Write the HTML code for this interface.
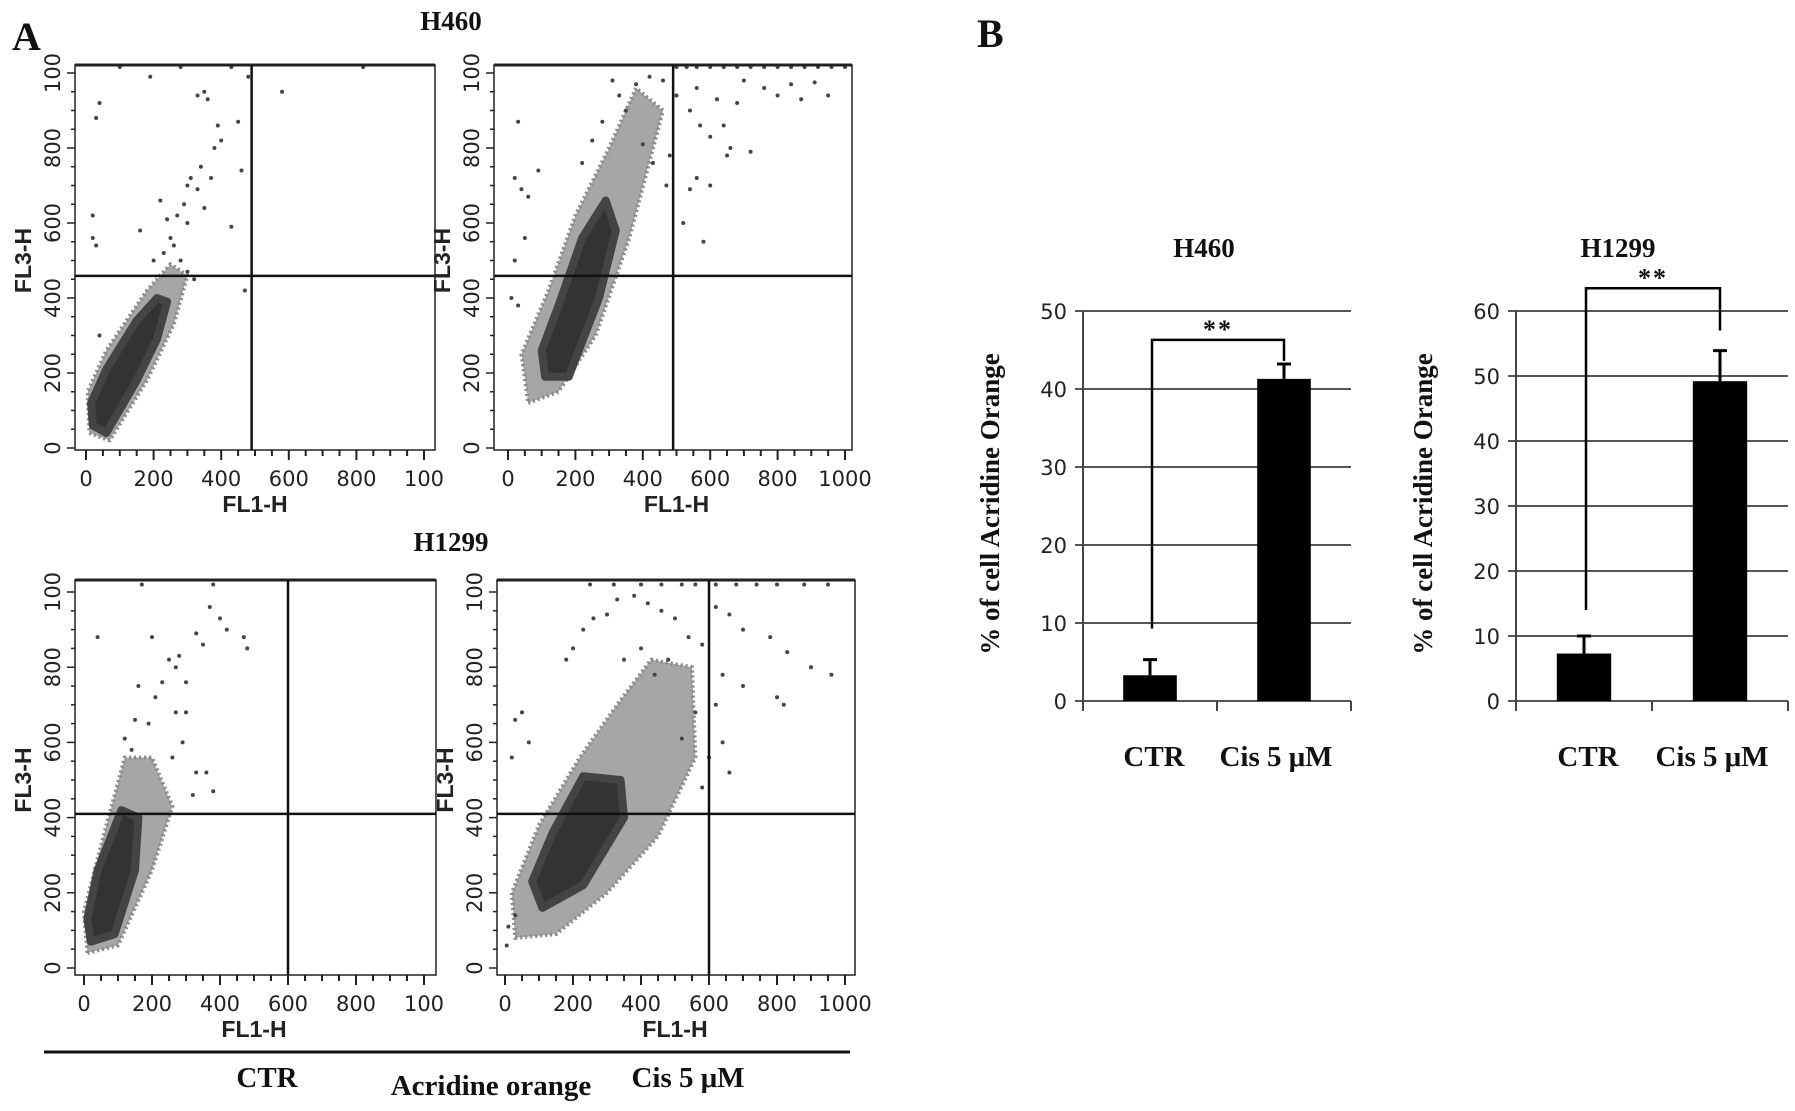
<!DOCTYPE html>
<html><head><meta charset="utf-8"><style>
html,body{margin:0;padding:0;background:#fff;}
svg{display:block;}
.tk{font-family:"DejaVu Sans","Liberation Sans",sans-serif;font-size:21px;fill:#222;}
.fl{font-family:"Liberation Sans",sans-serif;font-size:23px;font-weight:bold;fill:#222;}
.ttl{font-family:"Liberation Serif",serif;font-weight:bold;fill:#111;}
</style></head><body>
<svg id="fig" width="1795" height="1111" viewBox="0 0 1795 1111" xmlns="http://www.w3.org/2000/svg">
<text x="12" y="50" class="ttl" font-size="40">A</text>
<text x="977" y="47" class="ttl" font-size="40">B</text>
<text x="451" y="30" class="ttl" font-size="27" text-anchor="middle">H460</text>
<text x="451" y="551" class="ttl" font-size="27" text-anchor="middle">H1299</text>
<line x1="44" y1="1052" x2="850" y2="1052" stroke="#111" stroke-width="3"/>
<text x="267" y="1087" class="ttl" font-size="29" text-anchor="middle">CTR</text>
<text x="491" y="1095" class="ttl" font-size="29" text-anchor="middle">Acridine orange</text>
<text x="688" y="1087" class="ttl" font-size="29" text-anchor="middle">Cis 5 μM</text>
<text x="1204" y="257" class="ttl" font-size="27" text-anchor="middle">H460</text>
<text x="1618" y="257" class="ttl" font-size="27" text-anchor="middle">H1299</text>
<g id="plots"></g>
</svg>
<script>
// ---------- Scatter data (data units: FL1-H, FL3-H) ----------
const p1CoreX=[20,60,150,210,240,210,150,60,15];
const p1CoreY=[60,40,180,290,390,400,340,210,120];
const p1HaloX=[10,70,180,260,300,250,180,60,5];
const p1HaloY=[40,20,180,330,460,490,420,260,150];
const p1PtsX=[30,40,190,480,580,330,350,360,390,400,380,450,460,340,310,330,290,270,300,250,260,230,280,160,20,30,20,40,430,470,200,320,300,240,220,350,370,300,100,280,430,820];
const p1PtsY=[880,920,990,990,950,940,950,930,860,820,800,870,740,750,720,690,650,620,600,560,540,520,500,580,560,540,620,300,590,420,500,450,470,610,660,640,720,700,1020,1020,1020,1020];

const p2CoreX=[110,180,270,320,290,220,150,100];
const p2CoreY=[190,190,400,580,660,560,380,260];
const p2HaloX=[60,150,260,360,460,380,300,200,120,40];
const p2HaloY=[120,150,300,560,900,960,800,620,420,250];
const p2PtsX=[560,620,700,760,800,840,910,950,870,540,570,600,640,660,720,650,560,600,540,680,500,460,420,380,30,40,20,60,10,30,50,20,90,480,520,580,470,430,400,350,330,310,280,250,220,500,530,560,600,640,680,720,760,800,840,880,920,960,1000];
const p2PtsY=[960,930,980,960,940,970,975,940,930,900,860,830,860,800,790,780,720,700,690,920,940,980,990,970,870,690,720,670,400,380,560,500,740,780,600,550,700,760,810,900,940,980,870,820,760,1020,1020,1020,1020,1020,1020,1020,1020,1020,1020,1020,1020,1020,1020];

const p3CoreX=[20,90,150,160,110,40,10];
const p3CoreY=[70,90,260,400,420,260,130];
const p3HaloX=[10,100,200,260,200,120,60,0];
const p3HaloY=[40,60,260,430,560,560,360,150];
const p3PtsX=[40,200,170,380,370,420,400,480,470,350,330,300,270,280,250,230,210,160,190,150,120,140,260,290,330,320,360,270,300,380];
const p3PtsY=[880,880,1020,1020,960,900,930,850,880,860,890,760,800,830,820,760,720,750,650,660,610,580,560,600,520,460,520,680,680,470];

const p4CoreX=[110,230,350,340,230,140,80];
const p4CoreY=[160,220,400,500,510,360,230];
const p4HaloX=[30,150,300,450,560,550,430,330,220,100,20];
const p4HaloY=[80,90,200,350,560,800,820,700,560,380,200];
const p4PtsX=[620,660,700,780,830,900,960,800,820,640,700,620,580,540,500,460,420,380,330,300,260,230,200,180,30,50,20,70,660,600,580,640,520,560,480,400,350,440,5,10,30,250,320,400,460,520,560,620,680,740,800,880,950];
const p4PtsY=[960,940,900,880,840,800,780,720,700,780,750,700,860,880,930,950,970,990,980,940,930,900,850,820,660,680,560,600,520,560,480,600,610,680,820,850,820,780,60,110,140,1020,1020,1020,1020,1020,1020,1020,1020,1020,1020,1020,1020];

const xTicks=[0,200,400,600,800,1000];
const xTickLabels=["0","200","400","600","800","100"];
const xTickLabels2=["0","200","400","600","800","1000"];
const yTicks=[0,200,400,600,800,1000];
const yTickLabels=["0","200","400","600","800","100"];

// ---------- Bar data ----------
const barCats=["CTR","Cis 5 μM"];
const h460Vals=[3.3,41.3];
const h460Err=[2.0,1.9];
const h1299Vals=[7.3,49.2];
const h1299Err=[2.7,4.7];
const h460YTicks=[0,10,20,30,40,50];
const h1299YTicks=[0,10,20,30,40,50,60];
const h460Bracket=[9.3,46.3,43.6];
const h1299Bracket=[14,63.5,57];

const NS="http://www.w3.org/2000/svg";
const root=document.getElementById('plots');
function mk(tag,attrs,parent){const e=document.createElementNS(NS,tag);for(const k in attrs)e.setAttribute(k,attrs[k]);(parent||root).appendChild(e);return e;}

const scatters=[
 {name:'h460-ctr',fx0:75,fx1:435,fy0:65,fy1:450,x0:86,x1000:424,y0:448,y1000:73,gx:490,gy:459,core:[p1CoreX,p1CoreY],halo:[p1HaloX,p1HaloY],pts:[p1PtsX,p1PtsY],labs:xTickLabels},
 {name:'h460-cis',fx0:494,fx1:852,fy0:65,fy1:450,x0:508,x1000:845,y0:448,y1000:73,gx:490,gy:459,core:[p2CoreX,p2CoreY],halo:[p2HaloX,p2HaloY],pts:[p2PtsX,p2PtsY],labs:xTickLabels2},
 {name:'h1299-ctr',fx0:75,fx1:436,fy0:580,fy1:975,x0:84,x1000:424,y0:968,y1000:592,gx:600,gy:410,core:[p3CoreX,p3CoreY],halo:[p3HaloX,p3HaloY],pts:[p3PtsX,p3PtsY],labs:xTickLabels},
 {name:'h1299-cis',fx0:497,fx1:855,fy0:580,fy1:975,x0:505,x1000:845,y0:968,y1000:592,gx:600,gy:410,core:[p4CoreX,p4CoreY],halo:[p4HaloX,p4HaloY],pts:[p4PtsX,p4PtsY],labs:xTickLabels2}
];
scatters.forEach(s=>{
 const g=mk('g',{});
 
 
 const X=v=>s.x0+(s.x1000-s.x0)*v/1000, Y=v=>s.y0-(s.y0-s.y1000)*v/1000;
 const poly=(arr)=>arr[0].map((v,i)=>X(v)+','+Y(arr[1][i])).join(' ');
 const halo=mk('polygon',{points:poly(s.halo),fill:'#6a6a6a','fill-opacity':0.6,stroke:'#888','stroke-width':4,'stroke-dasharray':'2 3','stroke-linejoin':'round'},g);
 
 
 const core=mk('polygon',{points:poly(s.core),fill:'#333',stroke:'#444','stroke-width':8,'stroke-linejoin':'round'},g);
 
 
 s.pts[0].forEach((v,i)=>{
  const c=mk('circle',{cx:X(v),cy:Math.max(s.fy0+2,Y(s.pts[1][i])),r:2,fill:'#444'},g);
  
  
 });
 const fr=mk('rect',{x:s.fx0,y:s.fy0,width:s.fx1-s.fx0,height:s.fy1-s.fy0,fill:'none',stroke:'#222','stroke-width':1.5},g);
 
 
 mk('line',{x1:s.fx0,y1:s.fy0,x2:s.fx1,y2:s.fy0,stroke:'#222','stroke-width':3},g);
 const vg=mk('line',{x1:X(s.gx),y1:s.fy0,x2:X(s.gx),y2:s.fy1,stroke:'#111','stroke-width':2.5},g);
 
 
 const hg=mk('line',{x1:s.fx0,y1:Y(s.gy),x2:s.fx1,y2:Y(s.gy),stroke:'#111','stroke-width':2.5},g);
 
 
 for(let v=0;v<=1000;v+=50){const big=v%200===0;mk('line',{x1:X(v),y1:s.fy1,x2:X(v),y2:s.fy1+(big?10:6),stroke:'#222','stroke-width':2},g);}
 xTicks.forEach((v,i)=>{const t=mk('text',{x:X(v),y:s.fy1+36,class:'tk','text-anchor':'middle'},g);t.textContent=s.labs[i];
  
  });
 const xl=mk('text',{x:(X(0)+X(1000))/2,y:s.fy1+62,class:'fl','text-anchor':'middle'},g);xl.textContent='FL1-H';
 
 
 for(let v=0;v<=1000;v+=50){const big=v%200===0;mk('line',{x1:s.fx0-(big?8:4),y1:Y(v),x2:s.fx0,y2:Y(v),stroke:'#222','stroke-width':1.5},g);}
 yTicks.forEach((v,i)=>{const t=mk('text',{x:0,y:0,class:'tk','text-anchor':'middle',transform:`translate(${s.fx0-15},${Y(v)}) rotate(-90)`,'font-size':'19'},g);t.textContent=yTickLabels[i];
  
  });
 const yl=mk('text',{x:0,y:0,class:'fl','text-anchor':'middle',transform:`translate(${s.fx0-44},${Y(500)}) rotate(-90)`,'font-size':'20'},g);yl.textContent='FL3-H';
 
 
});

// ---------- Bar charts ----------
const bars=[
 {name:'h460',ax0:1083,ax1:1351,y0:701,ytop:311,ymax:50,vals:h460Vals,err:h460Err,ticks:h460YTicks,br:h460Bracket},
 {name:'h1299',ax0:1516,ax1:1788,y0:701,ytop:311,ymax:60,vals:h1299Vals,err:h1299Err,ticks:h1299YTicks,br:h1299Bracket}
];
bars.forEach(b=>{
 const g=mk('g',{});
 
 
 const Y=v=>b.y0-(b.y0-b.ytop)*v/b.ymax;
 const band=(b.ax1-b.ax0)/barCats.length;
 const cx=i=>b.ax0+band*(i+0.5);
 b.ticks.forEach(v=>{
  const gl=mk('line',{x1:b.ax0-8,y1:Y(v),x2:b.ax1,y2:Y(v),stroke:'#555','stroke-width':2},g);
  
  
  const t=mk('text',{x:b.ax0-16,y:Y(v)+8,class:'tk','text-anchor':'end','font-size':'23'},g);t.textContent=String(v);
  
  
 });
 mk('line',{x1:b.ax0,y1:b.ytop,x2:b.ax0,y2:b.y0+10,stroke:'#444','stroke-width':2},g);
 for(let i=1;i<=barCats.length;i++)mk('line',{x1:b.ax0+band*i,y1:b.y0,x2:b.ax0+band*i,y2:b.y0+10,stroke:'#444','stroke-width':2},g);
 barCats.forEach((c,i)=>{
  const w=band*0.4;
  const r=mk('rect',{x:cx(i)-w/2,y:Y(b.vals[i]),width:w,height:Y(0)-Y(b.vals[i]),fill:'#000'},g);
  
  
  const top=Y(b.vals[i]+b.err[i]);
  const e=mk('path',{d:`M${cx(i)},${Y(b.vals[i])}V${top}M${cx(i)-7},${top}H${cx(i)+7}`,stroke:'#000','stroke-width':3,fill:'none'},g);
  
  
  const t=mk('text',{x:cx(i)+(i===0?4:-8),y:b.y0+65,class:'ttl','font-size':'29','text-anchor':'middle'},g);t.textContent=c;
  
  
 });
 const xl=cx(0)+2,xr=cx(1);
 const br=mk('path',{d:`M${xl},${Y(b.br[0])}V${Y(b.br[1])}H${xr}V${Y(b.br[2])}`,stroke:'#000','stroke-width':2.5,fill:'none'},g);
 
 
 const st=mk('text',{x:(xl+xr)/2,y:Y(b.br[1])-2,class:'ttl','font-size':'26','text-anchor':'middle','letter-spacing':'2'},g);st.textContent='**';
 
 
 const yt=mk('text',{x:0,y:0,class:'ttl','font-size':'27','text-anchor':'middle',transform:`translate(${b.ax0-84},${(b.y0+b.ytop)/2-2}) rotate(-90)`},g);yt.textContent='% of cell Acridine Orange';
 
 
});
</script>
</body></html>
